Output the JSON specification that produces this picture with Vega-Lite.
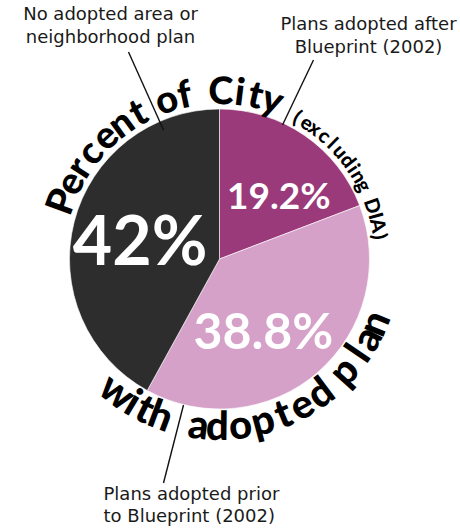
{
  "$schema": "https://vega.github.io/schema/vega-lite/v6.json",
  "width": 439,
  "height": 518,
  "autosize": {"type": "none"},
  "padding": {"left": 0, "top": 0, "right": 21, "bottom": 10},
  "background": "#ffffff",
  "config": {"view": {"stroke": null}},
  "datasets": {
    "slices": [
      {"plan": "Plans adopted after Blueprint (2002)", "pct": 19.2, "label": "19.2%"},
      {"plan": "Plans adopted prior to Blueprint (2002)", "pct": 38.8, "label": "38.8%"},
      {"plan": "No adopted area or neighborhood plan", "pct": 42, "label": "42%"}
    ],
    "topText": [
      {"ch": "P", "deg": 290}, {"ch": "e", "deg": 297}, {"ch": "r", "deg": 303},
      {"ch": "c", "deg": 309.5}, {"ch": "e", "deg": 317}, {"ch": "n", "deg": 324},
      {"ch": "t", "deg": 331}, {"ch": "o", "deg": 341.5}, {"ch": "f", "deg": 348},
      {"ch": "C", "deg": 0.5}, {"ch": "i", "deg": 7}, {"ch": "t", "deg": 12.5},
      {"ch": "y", "deg": 18.5}
    ],
    "smallText": [
      {"ch": "(", "deg": 28.7}, {"ch": "e", "deg": 32.7}, {"ch": "x", "deg": 36.2},
      {"ch": "c", "deg": 40.5}, {"ch": "l", "deg": 44.3}, {"ch": "u", "deg": 48.3},
      {"ch": "d", "deg": 52.6}, {"ch": "i", "deg": 56}, {"ch": "n", "deg": 59.3},
      {"ch": "g", "deg": 63}, {"ch": "D", "deg": 70.9}, {"ch": "I", "deg": 74.6},
      {"ch": "A", "deg": 78}, {"ch": ")", "deg": 82}
    ],
    "bottomText": [
      {"ch": "w", "deg": 217.6}, {"ch": "i", "deg": 211}, {"ch": "t", "deg": 206.4},
      {"ch": "h", "deg": 200.5}, {"ch": "a", "deg": 187.2}, {"ch": "d", "deg": 180.7},
      {"ch": "o", "deg": 172.9}, {"ch": "p", "deg": 165}, {"ch": "t", "deg": 157.7},
      {"ch": "e", "deg": 150.7}, {"ch": "d", "deg": 143}, {"ch": "p", "deg": 132},
      {"ch": "l", "deg": 124.2}, {"ch": "a", "deg": 118.3}, {"ch": "n", "deg": 112.5}
    ],
    "notesCentered": [
      {"note": "No adopted area or\nneighborhood plan", "x": -109, "y": 244},
      {"note": "Plans adopted after\nBlueprint (2002)", "x": 149, "y": 234}
    ],
    "notesLeft": [
      {"note": "Plans adopted prior\nto Blueprint (2002)", "x": -116, "y": -236}
    ],
    "leaders": [
      {"x": -91, "y": 207, "x2": -56, "y2": 129},
      {"x": 94, "y": 199, "x2": 63, "y2": 134},
      {"x": -36, "y": -146, "x2": -56, "y2": -224}
    ]
  },
  "layer": [
    {
      "data": {"name": "slices"},
      "mark": {"type": "arc", "outerRadius": 150, "stroke": "#ffffff", "strokeWidth": 0.6},
      "encoding": {
        "theta": {"field": "pct", "type": "quantitative", "stack": true},
        "order": {"field": "pct", "type": "quantitative", "sort": "ascending"},
        "color": {
          "field": "plan", "type": "nominal", "legend": null,
          "scale": {
            "domain": ["Plans adopted after Blueprint (2002)", "Plans adopted prior to Blueprint (2002)", "No adopted area or neighborhood plan"],
            "range": ["#9b3a7a", "#d6a1c9", "#2d2d2d"]
          }
        }
      }
    },
    {
      "data": {"name": "slices"},
      "mark": {"type": "text", "radius": 85, "font": "Lato", "fontWeight": "bold", "fontSize": 37, "fill": "#ffffff", "dx": 11, "dy": 9},
      "encoding": {
        "theta": {"field": "pct", "type": "quantitative", "stack": true},
        "order": {"field": "pct", "type": "quantitative", "sort": "ascending"},
        "text": {"condition": {"test": "datum.pct === 19.2", "field": "label"}, "value": ""}
      }
    },
    {
      "data": {"name": "slices"},
      "mark": {"type": "text", "radius": 85, "font": "Lato", "fontWeight": "bold", "fontSize": 50, "fill": "#ffffff", "dx": -12, "dy": 11},
      "encoding": {
        "theta": {"field": "pct", "type": "quantitative", "stack": true},
        "order": {"field": "pct", "type": "quantitative", "sort": "ascending"},
        "text": {"condition": {"test": "datum.pct === 38.8", "field": "label"}, "value": ""}
      }
    },
    {
      "data": {"name": "slices"},
      "mark": {"type": "text", "radius": 85, "font": "Lato", "fontWeight": "bold", "fontSize": 68, "fill": "#ffffff", "dx": 3, "dy": 7},
      "encoding": {
        "theta": {"field": "pct", "type": "quantitative", "stack": true},
        "order": {"field": "pct", "type": "quantitative", "sort": "ascending"},
        "text": {"condition": {"test": "datum.pct === 42", "field": "label"}, "value": ""}
      }
    },
    {
      "data": {"name": "topText"},
      "mark": {"type": "text", "radius": 155, "font": "Lato", "fontWeight": 900, "fontSize": 38, "fill": "#000000", "align": "center", "baseline": "alphabetic"},
      "encoding": {
        "theta": {"field": "deg", "type": "quantitative", "scale": {"domain": [0, 360], "range": [0, 6.283185]}},
        "angle": {"field": "deg", "type": "quantitative", "scale": {"domain": [0, 360], "range": [0, 360]}},
        "text": {"field": "ch"}
      }
    },
    {
      "data": {"name": "smallText"},
      "mark": {"type": "text", "radius": 155, "font": "Lato", "fontWeight": 900, "fontSize": 20, "fill": "#000000", "align": "center", "baseline": "alphabetic"},
      "encoding": {
        "theta": {"field": "deg", "type": "quantitative", "scale": {"domain": [0, 360], "range": [0, 6.283185]}},
        "angle": {"field": "deg", "type": "quantitative", "scale": {"domain": [0, 360], "range": [0, 360]}},
        "text": {"field": "ch"}
      }
    },
    {
      "data": {"name": "bottomText"},
      "mark": {"type": "text", "radius": 181, "font": "Lato", "fontWeight": 900, "fontSize": 40, "fill": "#000000", "align": "center", "baseline": "alphabetic"},
      "encoding": {
        "theta": {"field": "deg", "type": "quantitative", "scale": {"domain": [0, 360], "range": [0, 6.283185]}},
        "angle": {"field": "deg", "type": "quantitative", "scale": {"domain": [0, 360], "range": [-180, 180]}},
        "text": {"field": "ch"}
      }
    },
    {
      "data": {"name": "leaders"},
      "mark": {"type": "rule", "color": "#111111", "strokeWidth": 1.4},
      "encoding": {
        "x": {"field": "x", "type": "quantitative", "axis": null, "scale": {"domain": [-219.5, 219.5], "nice": false, "zero": false}},
        "y": {"field": "y", "type": "quantitative", "axis": null, "scale": {"domain": [-259, 259], "nice": false, "zero": false}},
        "x2": {"field": "x2"},
        "y2": {"field": "y2"}
      }
    },
    {
      "data": {"name": "notesCentered"},
      "mark": {"type": "text", "font": "DejaVu Sans", "fontSize": 18, "fill": "#1a1a1a", "align": "center", "baseline": "middle", "lineBreak": "\n", "lineHeight": 22.5},
      "encoding": {
        "x": {"field": "x", "type": "quantitative", "axis": null},
        "y": {"field": "y", "type": "quantitative", "axis": null},
        "text": {"field": "note"}
      }
    },
    {
      "data": {"name": "notesLeft"},
      "mark": {"type": "text", "font": "DejaVu Sans", "fontSize": 18, "fill": "#1a1a1a", "align": "left", "baseline": "middle", "lineBreak": "\n", "lineHeight": 22},
      "encoding": {
        "x": {"field": "x", "type": "quantitative", "axis": null},
        "y": {"field": "y", "type": "quantitative", "axis": null},
        "text": {"field": "note"}
      }
    }
  ],
  "resolve": {"scale": {"theta": "independent", "angle": "independent"}}
}
